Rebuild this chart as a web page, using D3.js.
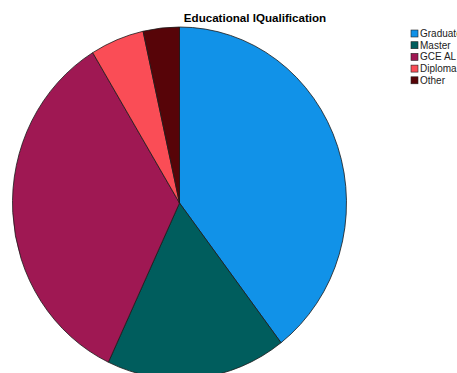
<!DOCTYPE html>
<html><head><meta charset="utf-8">
<script src="https://cdn.jsdelivr.net/npm/d3@7"></script>
<style>body{margin:0;background:#fff}svg{display:block}</style>
</head><body>
<script>
const categories = ["Graduate", "Master", "GCE AL", "Diploma", "Other"];
const values = [39.6, 17.4, 34.3, 5.2, 3.5];
const colors = ["#1192e8", "#005d5d", "#9f1853", "#fa4d56", "#570408"];
const title = "Educational lQualification";

const W = 457, H = 373;
const svg = d3.select("body").append("svg").attr("width", W).attr("height", H);

const rx = 167, ry = 176, cx = 179.5, cy = 203;
const pie = d3.pie().sort(null).value(d => d.v);
const arc = d3.arc().innerRadius(0).outerRadius(rx);
const data = categories.map((c, i) => ({c, v: values[i]}));
const color = d3.scaleOrdinal().domain(categories).range(colors);

const g = svg.append("g").attr("transform", `translate(${cx},${cy}) scale(1,${ry / rx})`);
g.selectAll("path").data(pie(data)).join("path")
  .attr("d", arc)
  .attr("fill", d => color(d.data.c))
  .attr("stroke", "#1a1a1a")
  .attr("stroke-width", 0.8)
  .attr("vector-effect", "non-scaling-stroke");

svg.append("text").attr("x", 255).attr("y", 22)
  .attr("text-anchor", "middle")
  .attr("font-family", "Liberation Sans, Arial, sans-serif")
  .attr("font-weight", "bold").attr("font-size", 11.6)
  .attr("fill", "#000").text(title);

const lg = svg.append("g").attr("transform", "translate(411,30)");
const rows = lg.selectAll("g").data(categories).join("g")
  .attr("transform", (d, i) => `translate(0,${i * 11.7})`);
rows.append("rect").attr("width", 7).attr("height", 7)
  .attr("fill", d => color(d)).attr("stroke", "#222").attr("stroke-width", 0.6);
rows.append("text").attr("x", 9).attr("y", 7)
  .attr("font-family", "Liberation Sans, Arial, sans-serif")
  .attr("font-size", 10).attr("fill", "#222").text(d => d);
</script>
</body></html>
